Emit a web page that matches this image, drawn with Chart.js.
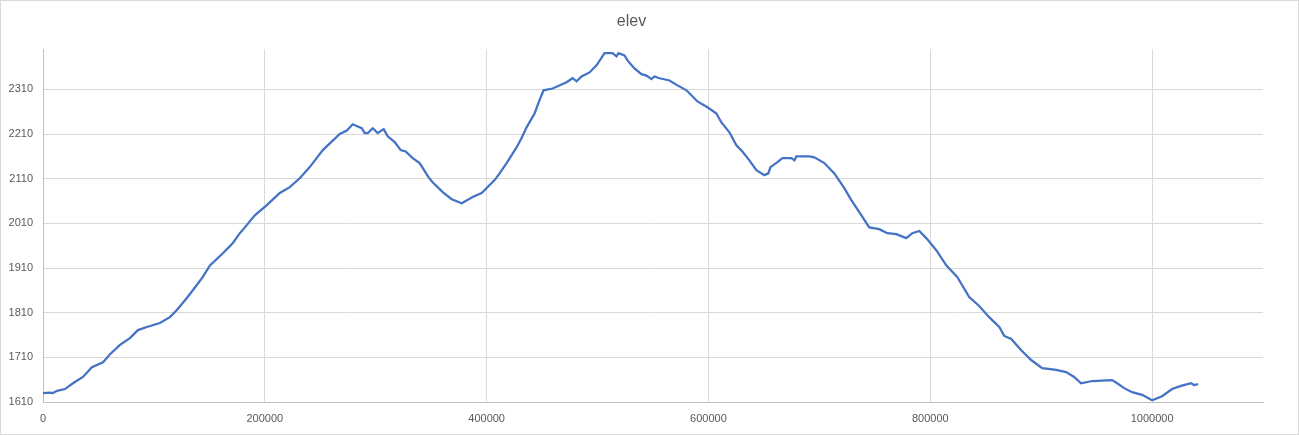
<!DOCTYPE html>
<html lang="en">
<head>
    <meta charset="UTF-8">
    <title>elev</title>
    <script src="https://cdn.jsdelivr.net/npm/chart.js"></script>
    <style>
        html, body { margin: 0; padding: 0; background: #fff; }
        #chart { display: block; }
    </style>
</head>
<body>
    <canvas id="chart" width="1299" height="435"></canvas>

    <script>
        // distance along track and elevation
        const distance = [
            0, 6300, 9000, 12600, 19800, 27000, 36000, 44100, 54100, 60400,
            69400, 78400, 85600, 93700, 105400, 114400, 120700, 129700, 138700, 144100,
            150500, 162200, 171200, 177500, 182000, 191000, 201800, 213500, 222500, 231500,
            240500, 252300, 267600, 273900, 279300, 283800, 287400, 290100, 292800, 297300,
            301800, 307200, 310800, 317100, 322500, 327000, 333300, 339600, 347700, 351300,
            360400, 368500, 377500, 387400, 395500, 407200, 411700, 418000, 427000, 431500,
            436000, 443200, 447700, 451300, 459500, 472100, 477500, 481100, 485600, 492800,
            499100, 506300, 513500, 517100, 518900, 524300, 527000, 533300, 539600, 544100,
            548600, 551300, 555900, 564900, 572100, 580200, 590100, 599100, 607200, 611700,
            618900, 625200, 630600, 636900, 643200, 650400, 654000, 655900, 662200, 666700,
            674800, 677500, 679300, 691000, 695500, 704500, 713500, 722500, 728800, 736000,
            745000, 754000, 761300, 769400, 778400, 783800, 790100, 796400, 805400, 814400,
            824300, 835100, 844100, 853100, 862200, 866700, 873000, 882000, 891000, 900900,
            913500, 922500, 929700, 936000, 945900, 963900, 968500, 974800, 982000, 991000,
            1000000, 1009000, 1018000, 1026100, 1035100, 1037800, 1041400
        ];
        const elev = [
            1630, 1631, 1630, 1635, 1639, 1652, 1666, 1688, 1699, 1717,
            1738, 1753, 1771, 1778, 1787, 1800, 1816, 1843, 1872, 1890,
            1916, 1943, 1966, 1988, 2001, 2028, 2051, 2078, 2091, 2111,
            2136, 2174, 2210, 2218, 2232, 2227, 2223, 2212, 2212, 2223,
            2212, 2221, 2205, 2192, 2174, 2171, 2156, 2145, 2113, 2102,
            2080, 2064, 2055, 2069, 2078, 2107, 2122, 2145, 2180, 2201,
            2225, 2256, 2286, 2308, 2312, 2326, 2335, 2328, 2339, 2348,
            2364, 2391, 2391, 2384, 2391, 2386, 2375, 2357, 2344, 2341,
            2333, 2339, 2335, 2330, 2319, 2308, 2283, 2270, 2256, 2236,
            2214, 2185, 2171, 2151, 2129, 2118, 2122, 2136, 2147, 2156,
            2156, 2151, 2160, 2160, 2158, 2145, 2122, 2089, 2062, 2035,
            2001, 1997, 1988, 1986, 1977, 1988, 1993, 1977, 1950, 1916,
            1890, 1845, 1825, 1800, 1778, 1758, 1751, 1726, 1704, 1686,
            1682, 1677, 1666, 1652, 1657, 1659, 1652, 1641, 1632, 1626,
            1614, 1623, 1639, 1646, 1652, 1648, 1650
        ];
        const yTicks = [1610, 1710, 1810, 1910, 2010, 2110, 2210, 2310];
        const xTicks = [0, 200000, 400000, 600000, 800000, 1000000];

        const points = distance.map((d, i) => ({ x: d, y: elev[i] }));

        // light grey frame around the whole chart area
        const frame = {
            id: 'frame',
            afterDraw(chart) {
                const ctx = chart.ctx;
                ctx.save();
                ctx.strokeStyle = '#d9d9d9';
                ctx.lineWidth = 1;
                ctx.strokeRect(0.5, 0.5, chart.width - 1, chart.height - 1);
                ctx.restore();
            }
        };

        const tickFont = { family: "'Liberation Sans', Arial, sans-serif", size: 11 };

        new Chart(document.getElementById('chart'), {
            type: 'scatter',
            data: {
                datasets: [{
                    label: 'elev',
                    data: points,
                    showLine: true,
                    borderColor: '#4472C4',
                    borderWidth: 2.25,
                    pointRadius: 0,
                    tension: 0
                }]
            },
            options: {
                responsive: false,
                animation: false,
                devicePixelRatio: 1,
                layout: { padding: { left: 0, right: 36, top: 0, bottom: 0 } },
                plugins: {
                    legend: { display: false },
                    tooltip: { enabled: false },
                    title: {
                        display: true,
                        text: 'elev',
                        color: '#595959',
                        font: { family: "'Liberation Sans', Arial, sans-serif", size: 16, weight: 'normal' },
                        padding: { top: 12, bottom: 18 }
                    }
                },
                scales: {
                    x: {
                        type: 'linear',
                        min: 0,
                        max: 1100000,
                        afterBuildTicks: s => { s.ticks = xTicks.map(v => ({ value: v })); },
                        afterFit: s => { s.height = 33; },
                        grid: { color: '#d9d9d9', drawTicks: false },
                        border: { color: '#bfbfbf' },
                        ticks: {
                            color: '#595959',
                            font: tickFont,
                            padding: 10,
                            maxRotation: 0,
                            callback: v => String(v)
                        }
                    },
                    y: {
                        type: 'linear',
                        min: 1610,
                        max: 2400,
                        afterBuildTicks: s => { s.ticks = yTicks.map(v => ({ value: v })); },
                        afterFit: s => { s.width = 43; },
                        grid: { color: '#d9d9d9', drawTicks: false },
                        border: { color: '#bfbfbf' },
                        ticks: {
                            color: '#595959',
                            font: tickFont,
                            padding: 10,
                            callback: v => String(v)
                        }
                    }
                }
            },
            plugins: [frame]
        });
    </script>
</body>
</html>
